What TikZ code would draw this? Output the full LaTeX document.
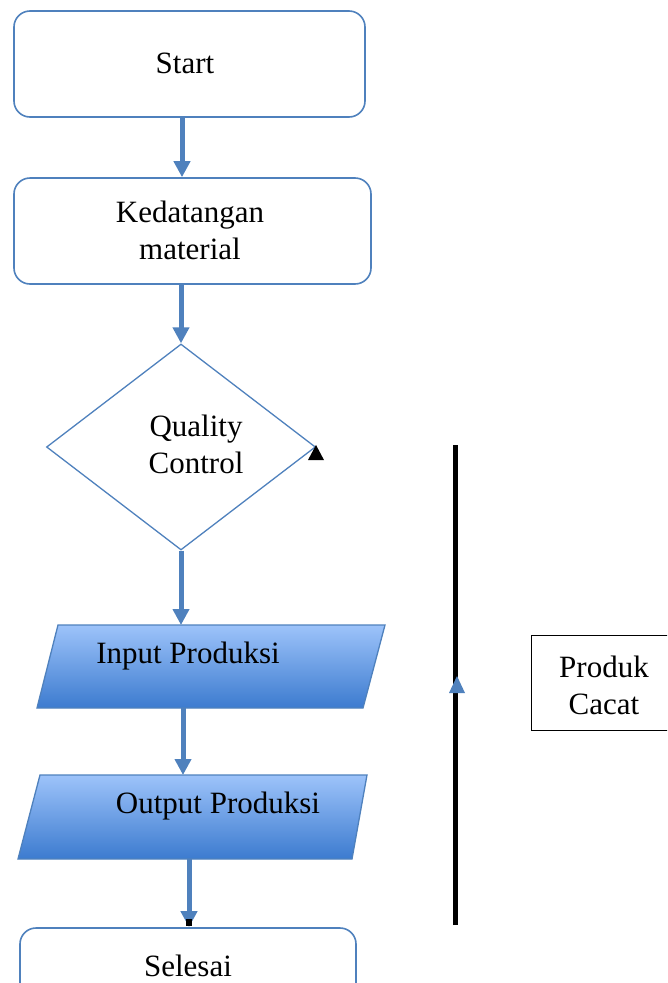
\documentclass[tikz,border=0pt]{standalone}
\usepackage{fontspec}
\setmainfont{Liberation Serif}
\usetikzlibrary{arrows.meta,shapes.geometric,calc}

\definecolor{flowblue}{HTML}{4F81BD}
\definecolor{iotop}{HTML}{9DC3FA}
\definecolor{iobottom}{HTML}{3C7BCF}

\tikzset{
  txt/.style={font=\fontsize{31}{37}\selectfont, align=center, inner sep=0pt},
  roundbox/.style={draw=flowblue, line width=1.6pt, rounded corners=16pt, fill=white},
  decision/.style={draw=flowblue, line width=1.3pt, diamond, fill=white, inner sep=0pt},
  iobox/.style={draw=flowblue, line width=1.3pt, top color=iotop, bottom color=iobottom},
  flow/.style={draw=flowblue, line width=5pt,
    -{Triangle[width=16pt,length=16pt]}, shorten >=0pt},
  plainbox/.style={draw=black, line width=1pt, fill=white},
}

\begin{document}
\begin{tikzpicture}[x=1pt, y=-1pt]
  \path[use as bounding box] (0,0) rectangle (667,983);
  \clip (0,0) rectangle (667,983);

  % terminal and process boxes
  \node[roundbox, minimum width=351pt, minimum height=106pt] (start) at (189.5,64) {};
  \node[txt] at (185,63) {Start};

  \node[roundbox, minimum width=357pt, minimum height=106pt] (arrive) at (192.5,231) {};
  \node[txt] at (190,230) {Kedatangan\\material};

  % decision
  \node[decision, minimum width=269pt, minimum height=206pt] (qc) at (181,447) {};
  \node[txt] at (196,444) {Quality\\Control};

  % input / output parallelograms
  \path[iobox] (58,625) -- (385,625) -- (363,708) -- (37,708) -- cycle;
  \coordinate (in-top) at (181,625);
  \coordinate (in-bot) at (183,708);
  \node[txt] (inlabel) at (188,656) {Input Produksi};

  \path[iobox] (40,775) -- (367,775) -- (352,859) -- (18,859) -- cycle;
  \coordinate (out-top) at (183,775);
  \coordinate (out-bot) at (189,859);
  \node[txt] (outlabel) at (218,806) {Output Produksi};

  % end terminal, running past the lower edge
  \node[roundbox, minimum width=336pt, minimum height=90pt] (finish) at (188,973) {};
  \node[txt] at (188,966) {Selesai};

  % main flow
  \draw[flow] (start.south -| 182,0) -- (arrive.north -| 182,0);
  \draw[flow] (arrive.south -| 181,0) -- (qc.north);
  \draw[flow] (qc.south) -- (in-top);
  \draw[flow] (in-bot) -- (out-top);
  \draw[flow] (out-bot) -- (finish.north -| 189,0);

  % small black marks
  \fill[black] (186,919) rectangle (192,926);
  \coordinate (qc-mark) at (316,454);
  \fill[black] ($(qc-mark)+(0,-9)$) -- ++(8,15) -- ++(-16,0) -- cycle;

  % reject loop line
  \coordinate (rej-top) at (455,445);
  \coordinate (rej-bot) at (455,925);
  \draw[black, line width=5pt] (rej-bot) -- (rej-top);
  \fill[flowblue] (457,676) -- (465,693) -- (449,693) -- cycle;

  % reject box
  \node[plainbox, minimum width=160pt, minimum height=95pt, anchor=north west] (reject) at (531,635) {};
  \node[txt] at (604,685) {Produk\\Cacat};
\end{tikzpicture}
\end{document}
